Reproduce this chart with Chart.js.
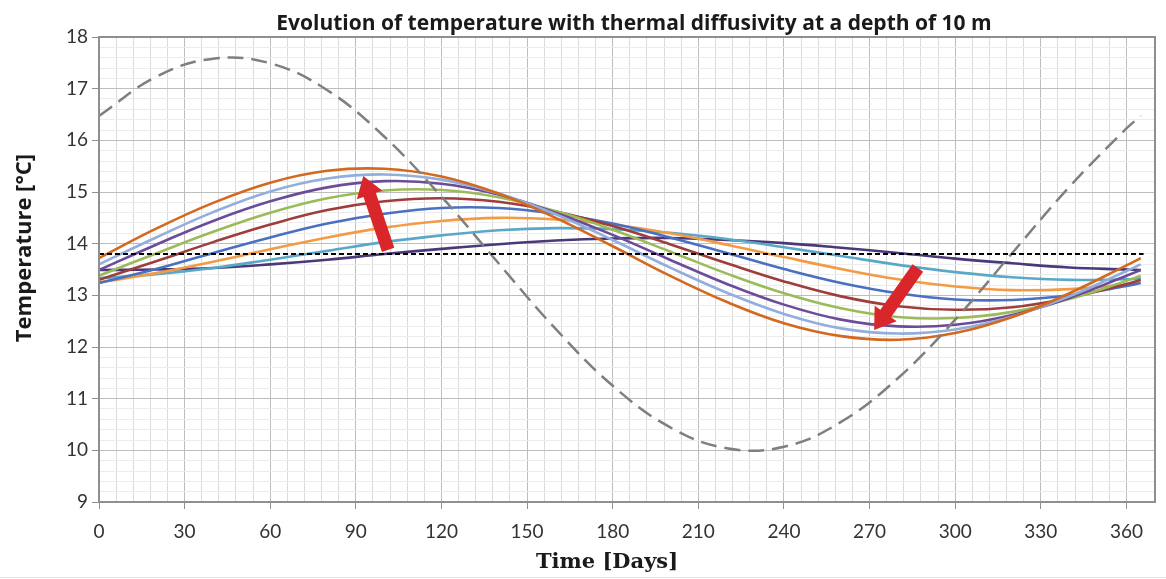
<!DOCTYPE html>
<html>
<head>
<meta charset="utf-8">
<script src="https://cdn.jsdelivr.net/npm/chart.js@4.4.1/dist/chart.umd.min.js"></script>
<style>
  html, body { margin: 0; padding: 0; background: #ffffff; }
  canvas { display: block; }
</style>
</head>
<body>
<canvas id="c" width="1166" height="579"></canvas>
<script>
// ---- Data ----
const chartTitle = 'Evolution of temperature with thermal diffusivity at a depth of 10 m';
const xTitle = 'Time [Days]';
const yTitle = 'Temperature [°C]';

const days = [0, 20, 40, 60, 80, 100, 120, 140, 160, 180, 200, 220, 240, 260, 280, 300, 320, 340, 360, 365];

const surfaceTemp = [16.47, 17.23, 17.58, 17.49, 16.97, 16.07, 14.91, 13.62, 12.35, 11.25, 10.45, 10.04, 10.07, 10.55, 11.40, 12.53, 13.82, 15.10, 16.23, 16.47];
const meanDays = [0, 366];
const meanTemp = [13.8, 13.8];

const s1 = [13.72, 14.29, 14.79, 15.18, 15.41, 15.45, 15.30, 14.97, 14.50, 13.95, 13.38, 12.87, 12.46, 12.21, 12.14, 12.27, 12.58, 13.04, 13.58, 13.72];
const s2 = [13.60, 14.12, 14.61, 15.01, 15.26, 15.34, 15.24, 14.97, 14.57, 14.07, 13.54, 13.05, 12.64, 12.36, 12.26, 12.34, 12.59, 12.98, 13.47, 13.60];
const s3 = [13.49, 13.98, 14.44, 14.82, 15.09, 15.21, 15.16, 14.95, 14.60, 14.17, 13.69, 13.22, 12.82, 12.53, 12.40, 12.43, 12.62, 12.95, 13.38, 13.49];
const s4 = [13.38, 13.81, 14.23, 14.60, 14.88, 15.03, 15.04, 14.90, 14.63, 14.27, 13.85, 13.42, 13.04, 12.75, 12.58, 12.56, 12.68, 12.93, 13.28, 13.38];
const s5 = [13.30, 13.66, 14.03, 14.37, 14.65, 14.82, 14.88, 14.81, 14.62, 14.34, 13.99, 13.62, 13.27, 12.98, 12.79, 12.72, 12.77, 12.95, 13.22, 13.30];
const s6 = [13.24, 13.51, 13.82, 14.12, 14.39, 14.58, 14.69, 14.69, 14.58, 14.39, 14.12, 13.82, 13.51, 13.24, 13.04, 12.92, 12.91, 13.00, 13.18, 13.24];
const s7 = [13.25, 13.43, 13.65, 13.89, 14.12, 14.31, 14.44, 14.50, 14.47, 14.37, 14.20, 13.98, 13.74, 13.51, 13.31, 13.17, 13.10, 13.12, 13.21, 13.25];
const s8 = [13.33, 13.41, 13.53, 13.69, 13.86, 14.03, 14.16, 14.26, 14.30, 14.28, 14.21, 14.09, 13.93, 13.76, 13.59, 13.45, 13.35, 13.30, 13.31, 13.33];
const s9 = [13.49, 13.50, 13.53, 13.60, 13.69, 13.80, 13.90, 13.99, 14.06, 14.10, 14.11, 14.07, 14.01, 13.92, 13.82, 13.71, 13.62, 13.54, 13.50, 13.49];

const seriesList = [s1, s2, s3, s4, s5, s6, s7, s8, s9];
const seriesColors = ['#D2691F', '#93AEDC', '#6B4C9A', '#9BBB59', '#9E3D3B', '#4A70C0', '#F39A45', '#5AA8C8', '#4A3878'];

// arrows [day, temperature] : tail -> tip
const arrowTails = [[101.3, 13.88], [286.9, 13.53]];
const arrowTips  = [[92.6, 15.31], [271.6, 12.33]];

const xMajorStep = 30, xMinorStep = 6;
const yMajorStep = 1, yMinorStep = 0.2;

// ---- Build datasets ----
function pts(xs, ys) { return xs.map((x, i) => ({ x: x, y: ys[i] })); }

const datasets = [];
datasets.push({
  data: pts(meanDays, meanTemp), borderColor: '#000000', borderWidth: 2,
  borderDash: [5, 3], tension: 0, pointRadius: 0
});
datasets.push({
  data: pts(days, surfaceTemp), borderColor: '#7f7f7f', borderWidth: 2.5,
  borderDash: [16, 8], tension: 0.4, pointRadius: 0
});
seriesList.forEach((s, i) => {
  datasets.push({
    data: pts(days, s), borderColor: seriesColors[i], borderWidth: 2.6,
    tension: 0.4, pointRadius: 0
  });
});

const isMajor = (v, step) => Math.abs(v / step - Math.round(v / step)) < 1e-6;

const deco = {
  id: 'deco',
  beforeDraw(c) {
    const g = c.ctx;
    g.save();
    g.fillStyle = '#ffffff';
    g.fillRect(0, 0, c.width, c.height);
    g.restore();
  },
  afterDatasetsDraw(c) {
    const g = c.ctx, xs = c.scales.x, ys = c.scales.y;
    g.save();
    g.fillStyle = '#D9262B';
    arrowTails.forEach((t, i) => {
      const x0 = xs.getPixelForValue(t[0]), y0 = ys.getPixelForValue(t[1]);
      const x1 = xs.getPixelForValue(arrowTips[i][0]), y1 = ys.getPixelForValue(arrowTips[i][1]);
      const dx = x1 - x0, dy = y1 - y0, L = Math.hypot(dx, dy);
      const ux = dx / L, uy = dy / L, nx = -uy, ny = ux;
      const w = 6.5, hw = 13.5, hl = 20;
      const bx = x1 - ux * hl, by = y1 - uy * hl;
      g.beginPath();
      g.moveTo(x0 + nx * w, y0 + ny * w);
      g.lineTo(bx + nx * w, by + ny * w);
      g.lineTo(bx + nx * hw, by + ny * hw);
      g.lineTo(x1, y1);
      g.lineTo(bx - nx * hw, by - ny * hw);
      g.lineTo(bx - nx * w, by - ny * w);
      g.lineTo(x0 - nx * w, y0 - ny * w);
      g.closePath();
      g.fill();
    });
    g.restore();
  },
  afterDraw(c) {
    const g = c.ctx, a = c.chartArea;
    g.save();
    g.strokeStyle = '#8f8f8f';
    g.lineWidth = 2;
    g.strokeRect(a.left, a.top, a.right - a.left, a.bottom - a.top);
    // faint frame line at bottom
    g.strokeStyle = '#e2e2e2';
    g.lineWidth = 1;
    g.beginPath(); g.moveTo(0, 577.5); g.lineTo(c.width, 577.5); g.stroke();
    // title
    g.fillStyle = '#1a1a1a';
    g.textAlign = 'center';
    g.textBaseline = 'alphabetic';
    g.font = 'bold 21px "Open Sans"';
    g.fillText(chartTitle, 634, 30);
    // x title
    g.font = 'bold 21px "DejaVu Serif"';
    g.fillText(xTitle, 607, 568);
    // y title
    g.translate(25, 248);
    g.rotate(-Math.PI / 2);
    g.textBaseline = 'middle';
    g.font = 'bold 22px "Open Sans"';
    g.fillText(yTitle, 0, 0);
    g.restore();
  }
};

Chart.defaults.font.family = 'Lato';

new Chart(document.getElementById('c'), {
  type: 'line',
  data: { datasets: datasets },
  plugins: [deco],
  options: {
    responsive: false,
    animation: false,
    devicePixelRatio: 1,
    layout: { padding: { top: 37, right: 1, left: 0, bottom: 0 } },
    plugins: { legend: { display: false }, title: { display: false }, tooltip: { enabled: false } },
    elements: { point: { radius: 0 } },
    scales: {
      x: {
        type: 'linear', min: 0, max: 370,
        afterFit(s) { s.height = 77; },
        border: { display: false },
        grid: {
          color: (ctx) => isMajor(ctx.tick.value, xMajorStep) ? '#bdbdbd' : '#dcdcdc',
          tickColor: (ctx) => isMajor(ctx.tick.value, xMajorStep) ? '#8f8f8f' : 'rgba(0,0,0,0)',
          tickLength: 7, lineWidth: 1
        },
        ticks: {
          stepSize: xMinorStep, autoSkip: false, maxRotation: 0, minRotation: 0,
          padding: 11, color: '#333333', font: { size: 19 },
          callback: (v) => isMajor(v, xMajorStep) ? String(Math.round(v)) : ''
        }
      },
      y: {
        type: 'linear', min: 9, max: 18,
        afterFit(s) { s.width = 99; },
        border: { display: false },
        grid: {
          color: (ctx) => isMajor(ctx.tick.value, yMajorStep) ? '#bdbdbd' : '#ececec',
          tickColor: (ctx) => isMajor(ctx.tick.value, yMajorStep) ? '#8f8f8f' : 'rgba(0,0,0,0)',
          tickLength: 7, lineWidth: 1
        },
        ticks: {
          stepSize: yMinorStep, autoSkip: false, padding: 4, color: '#333333', font: { size: 19 },
          callback: (v) => isMajor(v, yMajorStep) ? String(Math.round(v)) : ''
        }
      }
    }
  }
});
</script>
</body>
</html>
